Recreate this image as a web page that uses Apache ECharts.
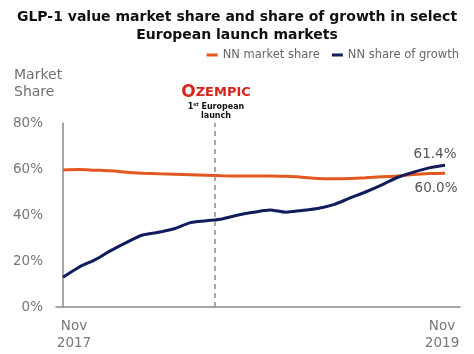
<!DOCTYPE html>
<html>
<head>
<meta charset="utf-8">
<script src="https://cdn.jsdelivr.net/npm/echarts@6/dist/echarts.min.js"></script>
<style>
  html, body { margin: 0; padding: 0; background: #fff; }
  #main { width: 474px; height: 354px; }
</style>
</head>
<body>
<div id="main"></div>
<script>
// 月份序号 0 = Nov 2017 ... 24 = Nov 2019
var months = [0,1,2,3,4,5,6,7,8,9,10,11,12,13,14,15,16,17,18,19,20,21,22,23,24];
var marketShare = [59.6,59.8,59.5,59.2,58.6,58.2,57.9,57.7,57.5,57.3,57.1,57.0,57.0,57.0,56.8,56.4,55.9,55.8,55.9,56.2,56.6,57.0,57.6,58.0,58.2];
var growthShare = [12.9,17.3,20.5,24.5,28.1,31.3,32.5,34.0,36.7,37.5,38.3,40.0,41.2,42.2,41.2,42.0,42.8,44.5,47.3,50.0,53.0,56.3,58.6,60.5,61.6];
var seriesNames = ["NN market share", "NN share of growth"];
var endLabels = ["60.0%", "61.4%"];
var xTickValues = [0, 24];
var xTickLabels = ["Nov\n2017", "Nov\n2019"];
var yTicks = [0, 20, 40, 60, 80];
var launchIndex = 9.55;

var FONT = "DejaVu Sans";

function pairs(vals) {
    var out = [];
    for (var i = 0; i < vals.length; i++) out.push([months[i], vals[i]]);
    return out;
}

var myChart = echarts.init(document.getElementById('main'));

var option = {
    backgroundColor: '#fff',
    textStyle: { fontFamily: FONT },
    title: [
        {
            text: "GLP-1 value market share and share of growth in select\nEuropean launch markets",
            left: 'center',
            top: 3,
            textStyle: { fontFamily: FONT, fontSize: 14, fontWeight: 'bold', color: '#111', lineHeight: 18 }
        },
        {
            text: "Market\nShare",
            left: 9,
            top: 62,
            textStyle: { fontFamily: FONT, fontSize: 14, fontWeight: 'normal', color: '#707070', lineHeight: 17 }
        }
    ],
    legend: {
        data: seriesNames,
        right: 10,
        top: 44,
        icon: 'rect',
        itemWidth: 11,
        itemHeight: 3,
        itemGap: 12,
        textStyle: { fontFamily: FONT, fontSize: 11.5, color: '#666' }
    },
    graphic: [
        {
            type: 'text',
            x: 216, y: 93,
            style: {
                text: '{o|O}{z|ZEMPIC}',
                rich: {
                    o: { fontFamily: FONT, fontSize: 17, fontWeight: 'bold', fill: '#d7261e' },
                    z: { fontFamily: FONT, fontSize: 13, fontWeight: 'bold', fill: '#d7261e' }
                },
                align: 'center',
                verticalAlign: 'middle'
            }
        },
        {
            type: 'text',
            x: 216, y: 111,
            style: {
                text: '{s|1}{sup|st}{s| European}\n{s|launch}',
                rich: {
                    s: { fontFamily: FONT, fontSize: 8, fontWeight: 'bold', fill: '#111', lineHeight: 9 },
                    sup: { fontFamily: FONT, fontSize: 5, fontWeight: 'bold', fill: '#111', verticalAlign: 'top', lineHeight: 9 }
                },
                align: 'center',
                verticalAlign: 'middle'
            }
        }
    ],
    grid: {
        left: 56,
        right: 14,
        top: 123,
        bottom: 47
    },
    xAxis: {
        type: 'value',
        min: -0.44,
        max: 24.94,
        splitLine: { show: false },
        axisLine: { show: true, lineStyle: { color: '#8a8a8a', width: 1.5 } },
        axisTick: { show: false },
        axisLabel: {
            customValues: xTickValues,
            margin: 11,
            formatter: function (v) {
                var i = xTickValues.indexOf(v);
                var t = i >= 0 ? xTickLabels[i] : '';
                return i === 0 ? '{a|' + t.split('\n').join('}\n{a|') + '}' : '{b|' + t.split('\n').join('}\n{b|') + '}';
            },
            rich: {
                a: { fontFamily: FONT, fontSize: 13.5, color: '#777', lineHeight: 17, padding: [0, 0, 0, 22] },
                b: { fontFamily: FONT, fontSize: 13.5, color: '#777', lineHeight: 17, padding: [0, 6, 0, 0] }
            }
        }
    },
    yAxis: {
        type: 'value',
        min: 0,
        max: 80,
        interval: 20,
        splitLine: { show: false },
        axisLine: { show: true, lineStyle: { color: '#8a8a8a', width: 1.5 } },
        axisTick: { show: false },
        axisLabel: {
            margin: 13,
            fontFamily: FONT,
            fontSize: 13.5,
            color: '#777',
            formatter: function (v) { return yTicks.indexOf(v) >= 0 ? v + '%' : ''; }
        }
    },
    series: [
        {
            name: seriesNames[0],
            type: 'line',
            smooth: 0.3,
            showSymbol: true,
            symbol: 'circle',
            symbolSize: 0.1,
            color: '#e2581e',
            lineStyle: { width: 3, color: '#e2581e' },
            data: pairs(marketShare),
            label: {
                show: true,
                position: 'bottom',
                distance: 8,
                offset: [-9, 0],
                fontFamily: FONT,
                fontSize: 13.5,
                color: '#555',
                formatter: function (p) { return p.dataIndex === marketShare.length - 1 ? endLabels[0] : ''; }
            },
            markLine: {
                silent: true,
                symbol: 'none',
                label: { show: false },
                lineStyle: { type: [5, 4], color: '#8a8a8a', width: 1.5 },
                data: [{ xAxis: launchIndex }]
            },
            z: 2
        },
        {
            name: seriesNames[1],
            type: 'line',
            smooth: 0.3,
            showSymbol: true,
            symbol: 'circle',
            symbolSize: 0.1,
            color: '#101c5c',
            lineStyle: { width: 3, color: '#101c5c' },
            data: pairs(growthShare),
            label: {
                show: true,
                position: 'top',
                distance: 4,
                offset: [-10, 0],
                fontFamily: FONT,
                fontSize: 13.5,
                color: '#555',
                formatter: function (p) { return p.dataIndex === growthShare.length - 1 ? endLabels[1] : ''; }
            },
            z: 3
        }
    ]
};

myChart.setOption(option);
</script>
</body>
</html>
